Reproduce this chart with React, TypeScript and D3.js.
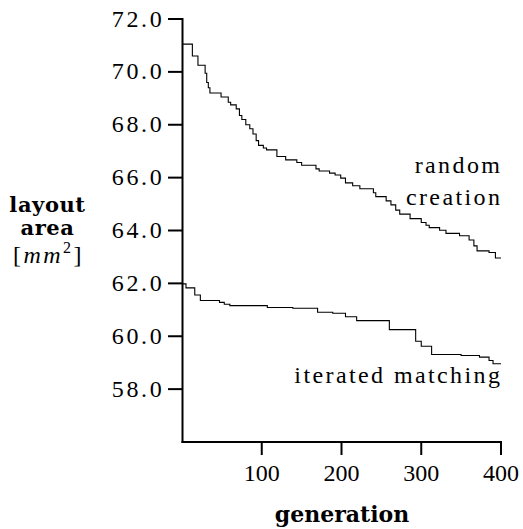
import React from "react";
import * as d3 from "d3";

const W = 523;
const H = 529;

// step data: generation at which value starts
const randomGen = [0, 13, 20, 29, 31, 33, 35, 49, 58, 61, 68, 72, 75, 80, 85, 89, 93, 96, 102, 106, 119, 130, 144, 150, 168, 172, 185, 192, 199, 205, 214, 223, 240, 243, 256, 262, 268, 273, 286, 300, 306, 310, 323, 331, 348, 360, 366, 370, 385, 393, 400];
const randomVal = [71.05, 70.6, 70.25, 69.95, 69.6, 69.4, 69.2, 69.05, 68.85, 68.75, 68.6, 68.35, 68.2, 68.0, 67.85, 67.65, 67.4, 67.22, 67.12, 67.05, 66.8, 66.67, 66.57, 66.47, 66.33, 66.25, 66.17, 66.1, 65.98, 65.8, 65.69, 65.58, 65.43, 65.28, 65.12, 64.97, 64.77, 64.62, 64.45, 64.3, 64.2, 64.11, 64.01, 63.89, 63.8, 63.64, 63.42, 63.23, 63.17, 62.96, 62.96];

const iterGen = [0, 5, 16, 23, 47, 53, 60, 107, 139, 170, 189, 205, 219, 260, 293, 300, 313, 350, 373, 385, 390, 400];
const iterVal = [61.98, 61.83, 61.56, 61.35, 61.28, 61.21, 61.16, 61.09, 61.06, 60.91, 60.87, 60.74, 60.59, 60.25, 59.81, 59.62, 59.31, 59.27, 59.21, 59.08, 58.96, 58.96];

const xTicks = [100, 200, 300, 400];
const yTicks = [58, 60, 62, 64, 66, 68, 70, 72];

const seriesLabels = ["random", "creation", "iterated matching"];

const tickFont = "Liberation Serif";
const boldFont = "DejaVu Serif";

export default function App() {
  const x = d3.scaleLinear().domain([0, 400]).range([182, 501]);
  const y = d3.scaleLinear().domain([56, 72]).range([442, 19]);

  const line = d3
    .line<[number, number]>()
    .x((d) => x(d[0]))
    .y((d) => y(d[1]))
    .curve(d3.curveStepAfter);

  const rData: [number, number][] = randomGen.map((g, i) => [g, randomVal[i]]);
  const iData: [number, number][] = iterGen.map((g, i) => [g, iterVal[i]]);

  const axisX = 182.5;

  return (
    <svg width={W} height={H} style={{ position: "absolute", left: 0, top: 0 }}>
      <rect width={W} height={H} fill="#fff" />
      {/* axes */}
      <line x1={axisX} y1={y(72) - 1} x2={axisX} y2={y(56) + 1} stroke="#000" strokeWidth={2} />
      <line x1={axisX - 1} y1={y(56)} x2={x(400) + 1} y2={y(56)} stroke="#000" strokeWidth={2} />
      {yTicks.map((t) => (
        <g key={t}>
          <line x1={168} x2={axisX} y1={y(t)} y2={y(t)} stroke="#000" strokeWidth={2} />
          <text x={164.5} y={y(t) + 7.5} textAnchor="end" fontFamily={tickFont} fontSize={24} letterSpacing={2.7}>
            {t.toFixed(1)}
          </text>
        </g>
      ))}
      {xTicks.map((t) => (
        <g key={t}>
          <line x1={x(t)} x2={x(t)} y1={y(56)} y2={455} stroke="#000" strokeWidth={2} />
          <text x={x(t)} y={481} textAnchor="middle" fontFamily={tickFont} fontSize={24}>
            {t}
          </text>
        </g>
      ))}
      {/* series */}
      <path d={line(rData) || ""} fill="none" stroke="#000" strokeWidth={1.1} />
      <path d={line(iData) || ""} fill="none" stroke="#000" strokeWidth={1.1} />
      {/* series labels */}
      <text x={502.4} y={173} textAnchor="end" fontFamily={tickFont} fontSize={24} letterSpacing={2.4}>
        {seriesLabels[0]}
      </text>
      <text x={502.4} y={205} textAnchor="end" fontFamily={tickFont} fontSize={24} letterSpacing={2.4}>
        {seriesLabels[1]}
      </text>
      <text x={502.4} y={383} textAnchor="end" fontFamily={tickFont} fontSize={24} letterSpacing={2.4}>
        {seriesLabels[2]}
      </text>
      {/* axis titles */}
      <text x={47.5} y={212} textAnchor="middle" fontFamily={boldFont} fontWeight="bold" fontSize={21} letterSpacing={0.6}>
        layout
      </text>
      <text x={47.5} y={235} textAnchor="middle" fontFamily={boldFont} fontWeight="bold" fontSize={21} letterSpacing={0.6}>
        area
      </text>
      <text x={48.5} y={263} textAnchor="middle" fontFamily={tickFont} fontSize={24} letterSpacing={2.5}>
        <tspan>[</tspan>
        <tspan fontStyle="italic">mm</tspan>
        <tspan fontSize={16} dy={-10}>2</tspan>
        <tspan dy={10}>]</tspan>
      </text>
      <text x={342} y={521.5} textAnchor="middle" fontFamily={boldFont} fontWeight="bold" fontSize={22}>
        generation
      </text>
    </svg>
  );
}
